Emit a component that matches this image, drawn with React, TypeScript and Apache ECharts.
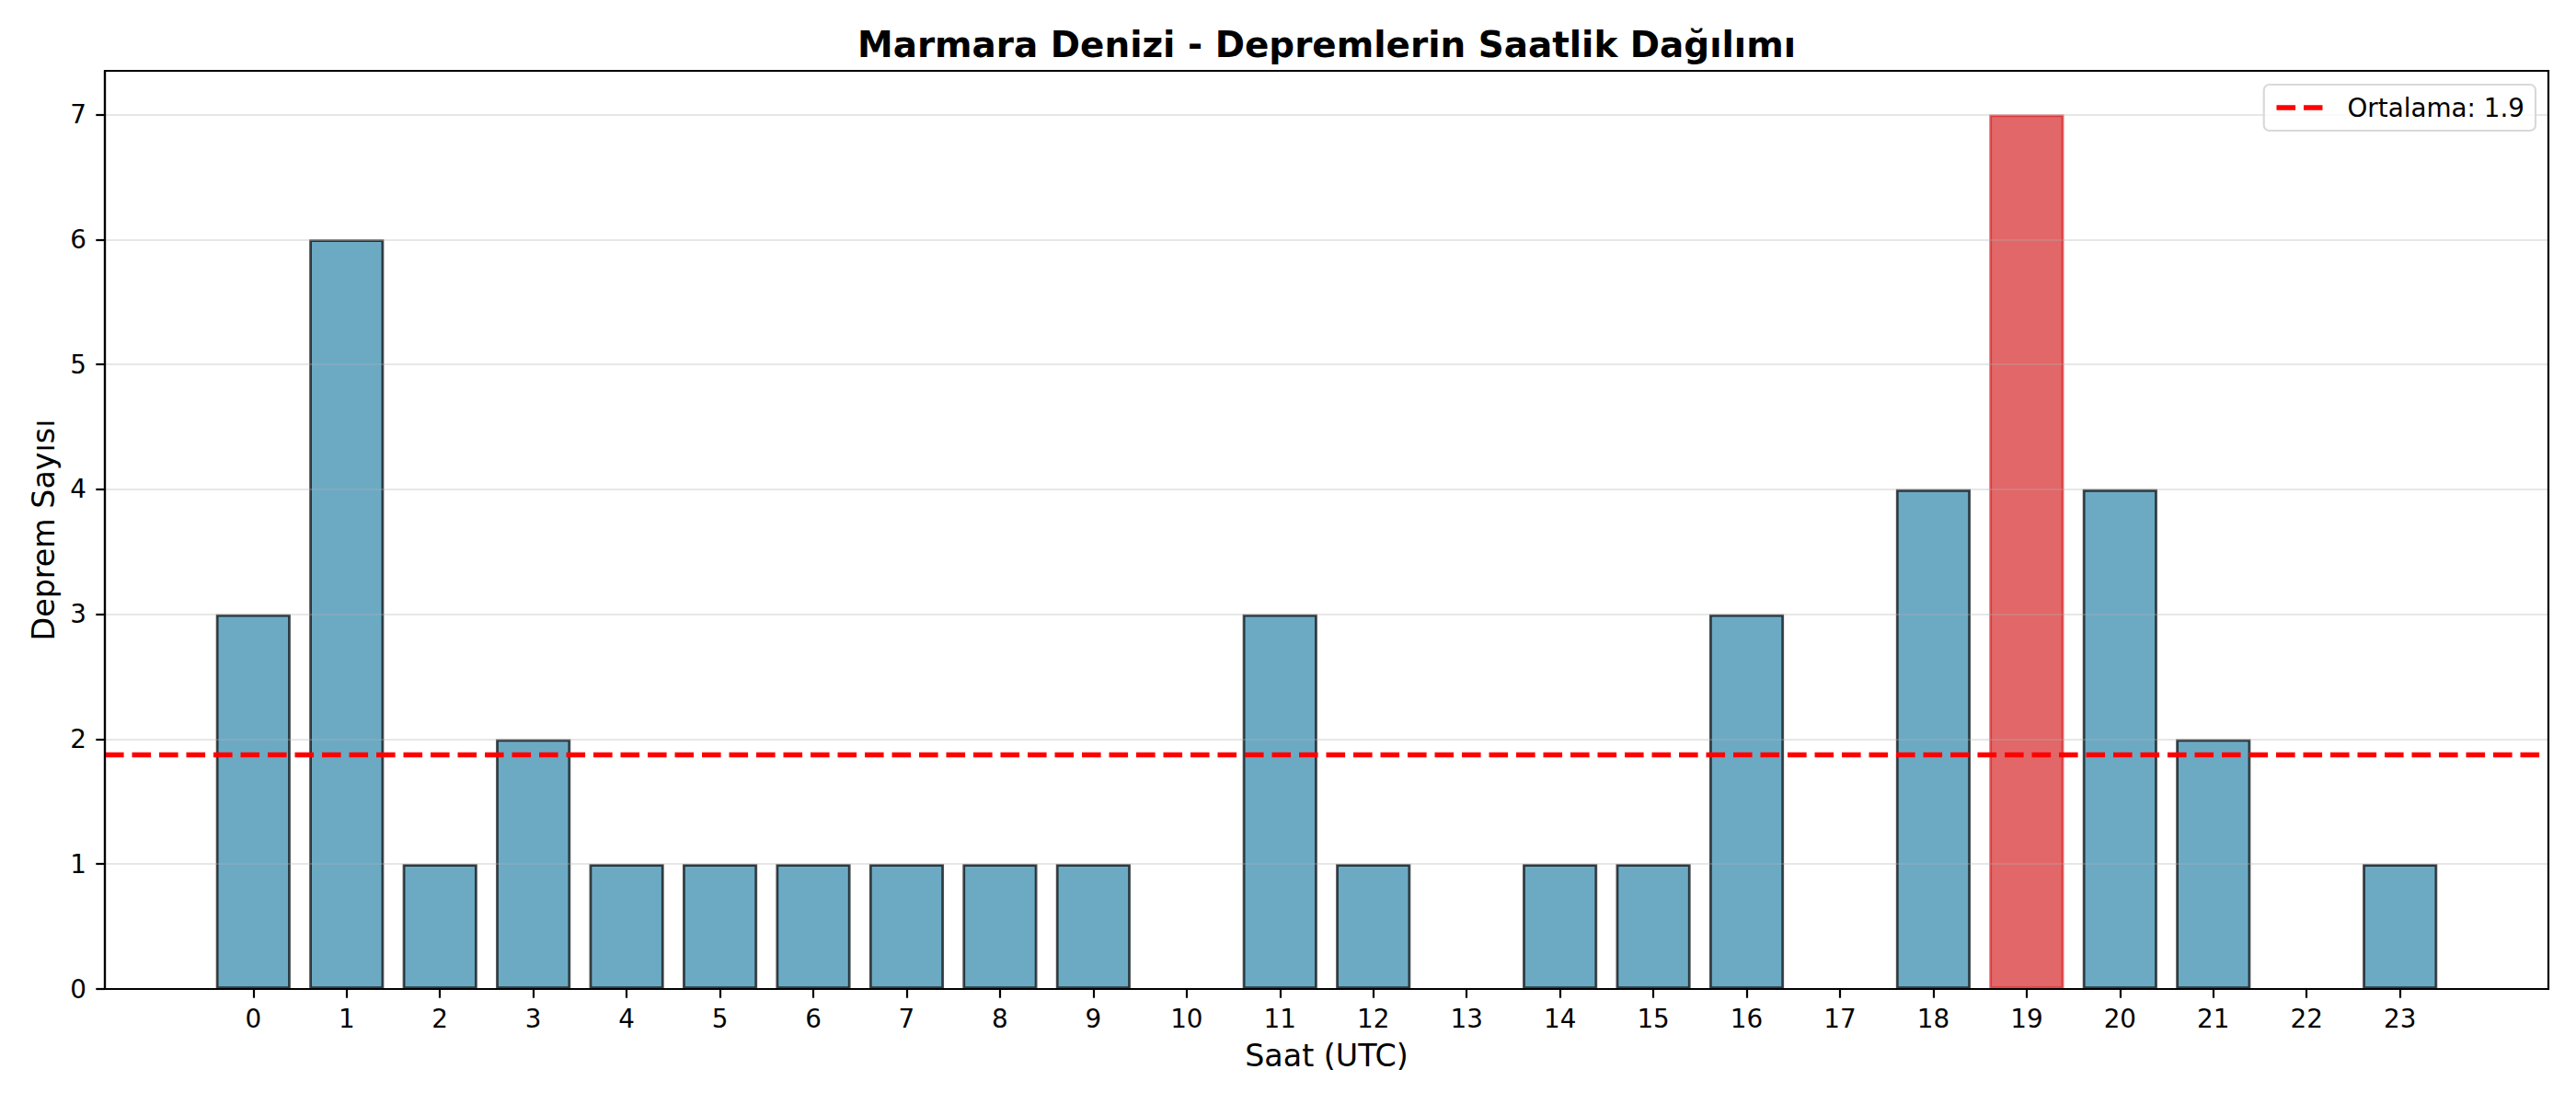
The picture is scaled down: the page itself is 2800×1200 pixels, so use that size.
import React, { useEffect, useRef } from "react";
import * as echarts from "echarts";

const hours = [0, 1, 2, 3, 4, 5, 6, 7, 8, 9, 10, 11, 12, 13, 14, 15, 16, 17, 18, 19, 20, 21, 22, 23];
const counts = [3, 6, 1, 2, 1, 1, 1, 1, 1, 1, 0, 3, 1, 0, 1, 1, 3, 0, 4, 7, 4, 2, 0, 1];
const yTicks = [0, 1, 2, 3, 4, 5, 6, 7];
const titleText = "Marmara Denizi - Depremlerin Saatlik Dağılımı";
const xName = "Saat (UTC)";
const yName = "Deprem Sayısı";

const FONT = "DejaVu Sans";

export default function App() {
  const ref = useRef<HTMLDivElement>(null);

  useEffect(() => {
    if (!ref.current) return;
    const chart = echarts.init(ref.current, undefined, { renderer: "svg" });

    const mean = counts.reduce((a, b) => a + b, 0) / counts.length;
    const meanLabel = `Ortalama: ${mean.toFixed(1)}`;
    const maxVal = Math.max(...counts);
    const peak = counts.indexOf(maxVal);

    // matplotlib-like auto margins (5%)
    const lo = hours[0] - 0.4;
    const hi = hours[hours.length - 1] + 0.4;
    const xMin = lo - 0.05 * (hi - lo);
    const xMax = hi + 0.05 * (hi - lo);
    const yMax = maxVal * 1.05;

    const blue = {
      color: "rgba(46,134,171,0.7)",
      borderColor: "rgba(0,0,0,0.7)",
      borderWidth: 2.8,
    };
    const red = {
      color: "rgba(214,39,40,0.7)",
      borderColor: "rgba(214,39,40,0.7)",
      borderWidth: 2.8,
    };

    const axisText = { color: "#000", fontSize: 27.8, fontFamily: FONT };
    const dash = [20.6, 8.9];

    chart.setOption({
      animation: false,
      backgroundColor: "#fff",
      graphic: [
        {
          type: "text",
          x: 1442,
          y: 48,
          z: 10,
          style: {
            text: titleText,
            fontSize: 38.9,
            fontWeight: "bold",
            fontFamily: FONT,
            fill: "#000",
            align: "center",
            verticalAlign: "middle",
          },
        },
      ],
      grid: {
        left: 114,
        right: 30,
        top: 77,
        bottom: 125,
        show: true,
        borderColor: "#000",
        borderWidth: 2.2,
        backgroundColor: "transparent",
        z: 6,
      },
      legend: {
        data: [meanLabel],
        right: 44,
        top: 92,
        orient: "vertical",
        padding: [11, 12, 11, 11],
        itemWidth: 50,
        itemHeight: 28,
        borderColor: "#d9d9d9",
        borderWidth: 2.2,
        borderRadius: 6,
        backgroundColor: "rgba(255,255,255,0.8)",
        itemStyle: { color: "transparent", opacity: 0, borderWidth: 0 },
        lineStyle: { color: "#ff0000", width: 5.5, type: dash, opacity: 1 },
        textStyle: { color: "#000", fontSize: 27.8, fontFamily: FONT, padding: [0, 0, 0, 22] },
        z: 10,
      },
      xAxis: {
        type: "value",
        min: xMin,
        max: xMax,
        z: 4,
        name: xName,
        nameLocation: "middle",
        nameGap: 56,
        nameTextStyle: { color: "#000", fontSize: 33.3, fontFamily: FONT },
        splitLine: { show: false },
        axisLine: { show: true, onZero: false, lineStyle: { color: "#000", width: 2.2 } },
        axisTick: {
          show: true,
          customValues: hours,
          length: 9.7,
          lineStyle: { color: "#000", width: 2.2 },
        },
        axisLabel: {
          ...axisText,
          customValues: hours,
          margin: 18,
          formatter: (v: number) => (Number.isInteger(v) ? String(v) : ""),
        },
      },
      yAxis: {
        type: "value",
        min: 0,
        max: yMax,
        interval: 1,
        z: 3,
        name: yName,
        nameLocation: "middle",
        nameGap: 50,
        nameRotate: 90,
        nameTextStyle: { color: "#000", fontSize: 33.3, fontFamily: FONT },
        splitLine: { show: true, lineStyle: { color: "rgba(176,176,176,0.3)", width: 2.2 } },
        axisLine: { show: true, onZero: false, lineStyle: { color: "#000", width: 2.2 } },
        axisTick: {
          show: true,
          customValues: yTicks,
          length: 9.7,
          lineStyle: { color: "#000", width: 2.2 },
        },
        axisLabel: {
          ...axisText,
          customValues: yTicks,
          margin: 20,
          formatter: (v: number) => (Number.isInteger(v) ? String(v) : ""),
        },
      },
      series: [
        {
          type: "bar",
          barWidth: "80%",
          z: 2,
          silent: true,
          data: hours.map((h, i) => ({
            value: [h, counts[i]],
            itemStyle:
              counts[i] === 0
                ? { ...blue, borderWidth: 0 }
                : i === peak
                ? red
                : blue,
          })),
        },
        {
          type: "line",
          name: meanLabel,
          z: 5,
          silent: true,
          symbol: "none",
          showSymbol: false,
          lineStyle: { color: "#ff0000", width: 5.5, type: dash },
          itemStyle: { color: "#ff0000" },
          data: [
            [xMin, mean],
            [xMax, mean],
          ],
        },
      ],
    });

    return () => chart.dispose();
  }, []);

  return (
    <div
      ref={ref}
      style={{ position: "absolute", left: 0, top: 0, width: 2800, height: 1200, background: "#fff" }}
    />
  );
}
